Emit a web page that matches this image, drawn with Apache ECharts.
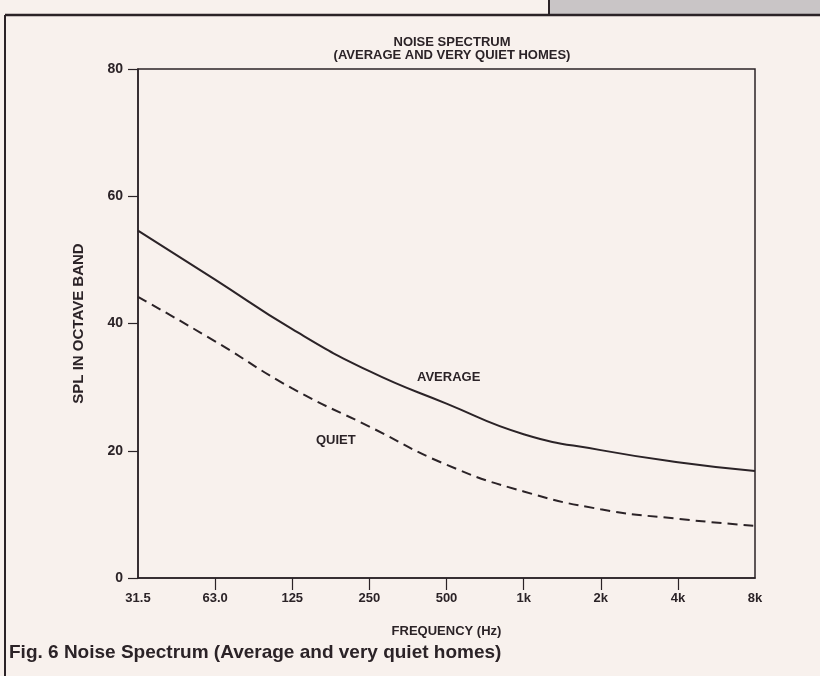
<!DOCTYPE html>
<html>
<head>
<meta charset="utf-8">
<script src="https://cdn.jsdelivr.net/npm/echarts@6/dist/echarts.min.js"></script>
<style>
  html, body { margin: 0; padding: 0; background: #f8f1ed; }
  #chart { width: 820px; height: 676px; }
</style>
</head>
<body>
<div id="chart"></div>
<script>
// octave band centre frequencies
const frequencies = ["31.5", "63.0", "125", "250", "500", "1k", "2k", "4k", "8k"];
// SPL in octave band
const averageHomes = [54.6, 46.9, 39.1, 32.5, 27.4, 22.6, 20.1, 18.2, 16.8];
const quietHomes = [44.2, 37.2, 29.8, 23.8, 17.8, 13.6, 10.8, 9.3, 8.2];

const ink = "#2b2327";
const font = "'Liberation Sans', Arial, sans-serif";

const chart = echarts.init(document.getElementById("chart"));
chart.setOption({
  backgroundColor: "#f8f1ed",
  animation: false,
  title: {
    text: "NOISE SPECTRUM\n(AVERAGE AND VERY QUIET HOMES)",
    left: 447,
    top: 31,
    textAlign: "center",
    textStyle: {
      fontFamily: font,
      fontSize: 13,
      fontWeight: "bold",
      color: ink,
      lineHeight: 13,
    },
  },
  grid: {
    left: 138,
    top: 69,
    right: 65,
    bottom: 98,
    show: true,
    borderColor: ink,
    borderWidth: 1.5,
    backgroundColor: "transparent",
  },
  xAxis: {
    type: "category",
    data: frequencies,
    boundaryGap: false,
    name: "FREQUENCY (Hz)",
    nameLocation: "middle",
    nameGap: 47,
    nameTextStyle: { fontFamily: font, fontSize: 13, fontWeight: "bold", color: ink },
    axisLine: { lineStyle: { color: ink, width: 1.5 } },
    axisTick: {
      length: 12,
      interval: (i) => i > 0 && i < frequencies.length - 1,
      lineStyle: { color: ink, width: 1.2 },
    },
    axisLabel: {
      margin: 14,
      fontFamily: font,
      fontSize: 13,
      fontWeight: "bold",
      color: ink,
    },
    splitLine: { show: false },
  },
  yAxis: {
    type: "value",
    min: 0,
    max: 80,
    interval: 20,
    name: "SPL IN OCTAVE BAND",
    nameLocation: "middle",
    nameGap: 52,
    nameTextStyle: { fontFamily: font, fontSize: 15, fontWeight: "bold", color: ink },
    axisLine: { show: true, lineStyle: { color: ink, width: 1.5 } },
    axisTick: { show: true, length: 10, lineStyle: { color: ink, width: 1.2 } },
    axisLabel: {
      margin: 15,
      fontFamily: font,
      fontSize: 14,
      fontWeight: "bold",
      color: ink,
    },
    splitLine: { show: false },
  },
  series: [
    {
      name: "AVERAGE",
      type: "line",
      data: averageHomes,
      smooth: 0.5,
      showSymbol: false,
      lineStyle: { color: ink, width: 2 },
    },
    {
      name: "QUIET",
      type: "line",
      data: quietHomes,
      smooth: 0.5,
      showSymbol: false,
      lineStyle: { color: ink, width: 2, type: [10, 6] },
    },
  ],
  graphic: [
    // outer frame of the figure
    { type: "rect", shape: { x: 549, y: 0, width: 271, height: 15 }, style: { fill: "#c9c5c6" }, z: 0 },
    { type: "line", shape: { x1: 549, y1: 0, x2: 549, y2: 15 }, style: { stroke: ink, lineWidth: 2 } },
    { type: "line", shape: { x1: 5, y1: 15, x2: 820, y2: 15 }, style: { stroke: ink, lineWidth: 2.5 } },
    { type: "line", shape: { x1: 5, y1: 15, x2: 5, y2: 676 }, style: { stroke: ink, lineWidth: 2 } },
    // curve labels
    {
      type: "text", left: 417, top: 371,
      style: { text: "AVERAGE", font: "bold 13px " + font, fill: ink },
    },
    {
      type: "text", left: 316, top: 434,
      style: { text: "QUIET", font: "bold 13px " + font, fill: ink },
    },
    // caption
    {
      type: "text", left: 9, top: 643,
      style: { text: "Fig. 6 Noise Spectrum (Average and very quiet homes)", font: "bold 19px " + font, fill: ink },
    },
  ],
});
</script>
</body>
</html>
